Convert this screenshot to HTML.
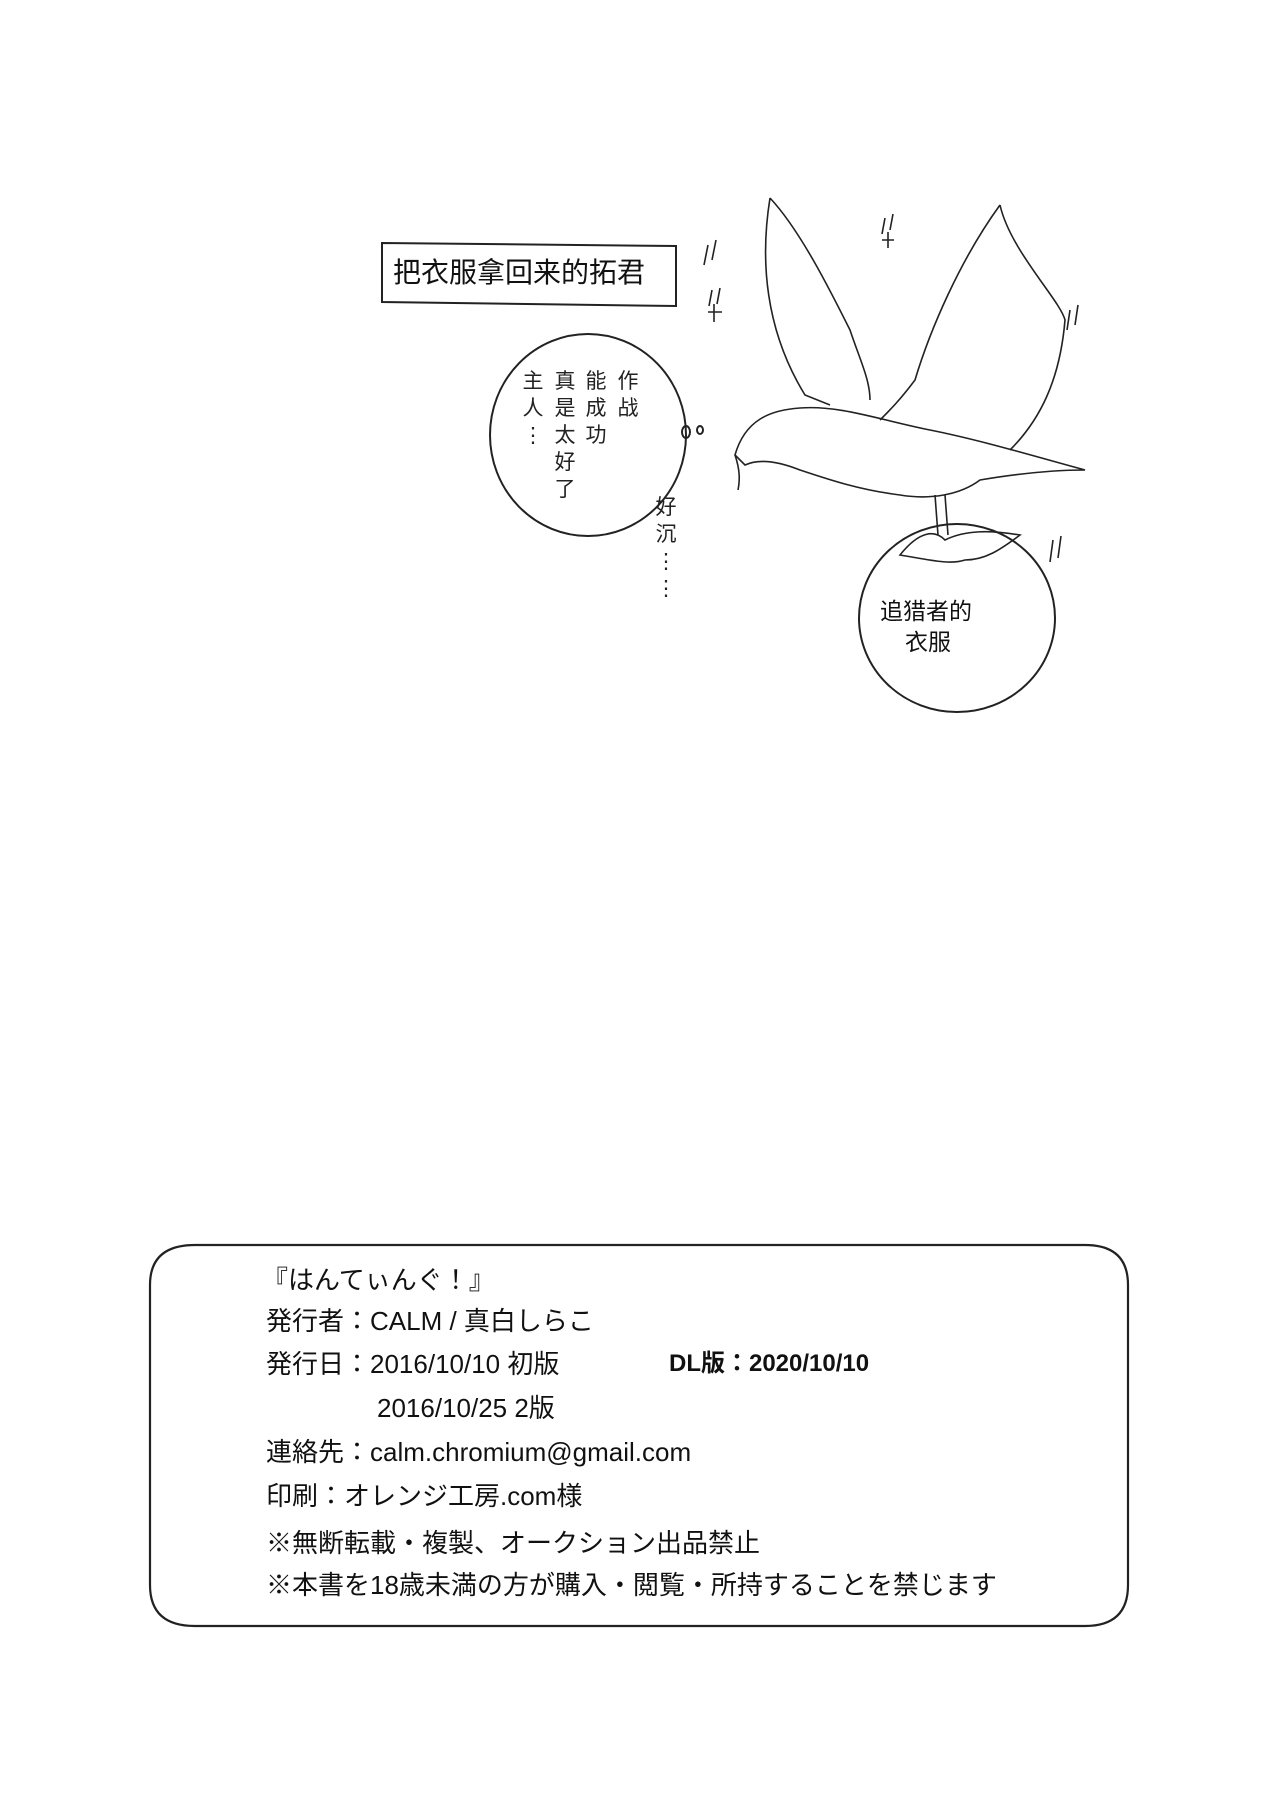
<!DOCTYPE html>
<html><head><meta charset="utf-8"><style>
body{margin:0;background:#fff;}
.pg{position:relative;width:1280px;height:1810px;overflow:hidden;background:#fff;font-family:"Liberation Sans","Noto Sans CJK JP",sans-serif;color:#111;}
.t{position:absolute;white-space:nowrap;font-size:26px;line-height:30px;}
.v{position:absolute;font-family:"Liberation Sans","Noto Sans CJK SC",sans-serif;font-size:21px;line-height:27px;width:24px;text-align:center;color:#222;}
</style></head><body><div class="pg">
<svg width="1280" height="1810" style="position:absolute;left:0;top:0" fill="none" stroke="#222" stroke-width="2">
<path d="M382 243 L676 246 L676 306 L382 302 Z"/>
<ellipse cx="588" cy="435" rx="98" ry="101"/>
<ellipse cx="686" cy="432" rx="4" ry="6"/><ellipse cx="700" cy="430" rx="3" ry="4"/>
<!-- bird -->
<g stroke-width="1.6">
<path d="M770 198 C760 260 765 330 805 395 L830 405"/>
<path d="M770 198 C800 230 830 290 850 330 C860 360 870 380 870 400"/>
<path d="M1000 205 C960 260 930 330 915 380 C900 400 890 410 880 420"/>
<path d="M1000 205 C1010 250 1060 300 1065 320 C1060 380 1040 420 1010 450"/>
<path d="M735 455 C745 420 770 410 800 408 C840 405 880 420 930 430 C980 440 1030 455 1085 470 C1050 470 1010 475 980 480 C960 495 930 500 900 495 C860 490 830 480 800 470 C780 462 760 458 745 465 Z"/>
<path d="M735 455 C740 470 740 480 738 490"/>
<path d="M945 495 L948 535"/><path d="M935 495 L938 535"/>
<path d="M708 245 l-4 20 M716 240 l-4 20"/>
<path d="M885 218 l-3 16 M893 214 l-3 16 M882 240 h12 M888 232 v16"/>
<path d="M712 290 l-3 16 M720 288 l-3 16 M708 312 h14 M714 304 v18"/>
<path d="M1070 310 l-3 20 M1078 305 l-3 20"/>
<path d="M1053 540 l-3 22 M1061 536 l-3 22"/>
</g>
<ellipse cx="957" cy="618" rx="98" ry="94"/>
<path d="M900 555 C920 530 935 530 945 540 C965 530 990 530 1020 535 C1000 550 985 560 965 560 C950 565 930 560 900 555 Z" stroke-width="1.6"/>
<path d="M195 1245 H1085 Q1128 1245 1128 1285 V1585 Q1128 1626 1085 1626 H195 Q150 1626 150 1585 V1285 Q150 1245 195 1245 Z" stroke-width="2.2"/>
</svg>
<div class="t" style="left:393px;top:258px;font-size:28px;font-family:'Liberation Sans','Noto Sans CJK SC',sans-serif;">把衣服拿回来的拓君</div>
<div class="v" style="left:616px;top:368px">作<br>战</div>
<div class="v" style="left:584px;top:368px">能<br>成<br>功</div>
<div class="v" style="left:553px;top:368px">真<br>是<br>太<br>好<br>了</div>
<div class="v" style="left:521px;top:368px">主<br>人<br>⋮</div>
<div class="v" style="left:654px;top:494px">好<br>沉<br>⋮<br>⋮</div>
<div class="t" style="left:880px;top:596px;font-size:23px;font-family:'Liberation Sans','Noto Sans CJK SC',sans-serif;">追猎者的</div>
<div class="t" style="left:905px;top:627px;font-size:23px;font-family:'Liberation Sans','Noto Sans CJK SC',sans-serif;">衣服</div>
<div class="t" style="left:262px;top:1265px">『はんてぃんぐ！』</div>
<div class="t" style="left:266px;top:1306px">発行者：CALM / 真白しらこ</div>
<div class="t" style="left:266px;top:1349px">発行日：2016/10/10 初版</div>
<div class="t" style="left:669px;top:1349px;font-weight:bold;font-size:24px">DL版：2020/10/10</div>
<div class="t" style="left:377px;top:1393px">2016/10/25 2版</div>
<div class="t" style="left:266px;top:1437px">連絡先：calm.chromium@gmail.com</div>
<div class="t" style="left:266px;top:1481px">印刷：オレンジ工房.com様</div>
<div class="t" style="left:266px;top:1528px">※無断転載・複製、オークション出品禁止</div>
<div class="t" style="left:266px;top:1570px">※本書を18歳未満の方が購入・閲覧・所持することを禁じます</div>
</div></body></html>
